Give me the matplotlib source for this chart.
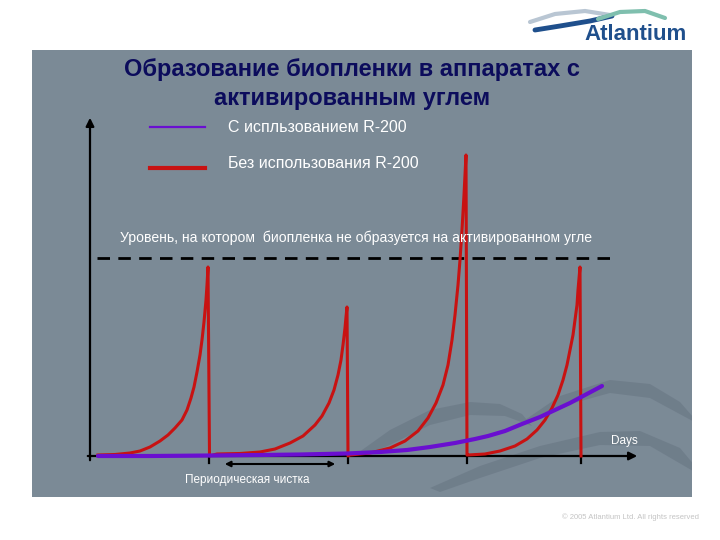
import matplotlib
matplotlib.use("Agg")
import matplotlib.pyplot as plt
from matplotlib.patches import Polygon
from matplotlib.transforms import Affine2D

plt.rcParams['font.family'] = ['Liberation Sans', 'DejaVu Sans']

TITLE = "Образование биопленки в аппаратах с\nактивированным углем"
LEGEND_WITH = "С испльзованием R-200"
LEGEND_WITHOUT = "Без использования R-200"
THRESHOLD_LABEL = "Уровень, на котором  биопленка не образуется на активированном угле"
CLEANING_LABEL = "Периодическая чистка"
X_LABEL = "Days"

# biofilm without R-200: four growth cycles, each ended by a cleaning
red_days = [0.8, 2.5, 4.0, 5.0, 6.0, 7.0, 7.8, 8.5, 9.2, 9.7, 10.1, 10.4, 10.7,
            11.0, 11.2, 11.4, 11.6, 11.7, 11.8, 11.95,
            12.7, 15.0, 17.0, 18.5, 20.0, 21.3, 22.5, 23.2, 23.9, 24.4, 24.8,
            25.1, 25.3, 25.5, 25.6, 25.7, 25.8,
            26.0, 28.0, 30.0, 31.5, 32.8, 33.8, 34.6, 35.3, 35.8, 36.2, 36.5,
            36.8, 37.0, 37.2, 37.4, 37.5, 37.6, 37.7,
            37.8, 39.5, 41.0, 42.5, 43.7, 44.7, 45.5, 46.2, 46.8, 47.3, 47.7,
            48.0, 48.3, 48.5, 48.7, 48.8, 49.0, 49.1]
red_vals = [0.1, 0.15, 0.3, 0.5, 0.9, 1.5, 2.1, 2.8, 3.6, 4.6, 5.8, 6.9, 8.4,
            10.1, 11.6, 13.4, 15.6, 17.1, 18.9, 0.0,
            0.2, 0.25, 0.4, 0.7, 1.3, 2.0, 3.1, 4.0, 5.3, 6.6, 8.1,
            9.6, 11.1, 12.8, 13.9, 14.9, 0.0,
            0.1, 0.3, 0.8, 1.5, 2.5, 3.8, 5.3, 7.1, 9.1, 11.6, 14.1,
            17.1, 19.6, 22.6, 26.1, 28.1, 30.1, 0.1,
            0.1, 0.2, 0.5, 1.0, 1.7, 2.6, 3.6, 4.8, 6.1, 7.6, 9.1,
            10.6, 12.1, 13.6, 15.1, 16.6, 18.9, 0.0]

# biofilm with R-200
purple_days = [0.8, 6.0, 12.0, 17.0, 21.0, 25.7, 29.0, 31.7, 34.0, 36.5, 38.5,
               39.8, 41.5, 43.2, 45.0, 46.5, 48.0, 49.5, 51.2]
purple_vals = [0.0, 0.0, 0.05, 0.1, 0.15, 0.25, 0.4, 0.6, 0.9, 1.3, 1.7,
               2.0, 2.5, 3.2, 3.9, 4.6, 5.3, 6.1, 7.0]

threshold = 19.8
cleaning_days = [11.9, 25.8, 37.7, 49.1]

PANEL = '#7b8a96'
RED = '#c81212'
PURPLE = '#6a0fd0'
NAVY = '#0c0c5c'

fig = plt.figure(figsize=(7.2, 5.4), dpi=100)
fig.patch.set_facecolor('white')

# pixel transform (top-left origin) for decoration
px = Affine2D().scale(1 / 720, -1 / 540).translate(0, 1) + fig.transFigure

ax = fig.add_axes([32 / 720, 43 / 540, 660 / 720, 447 / 540])
ax.set_facecolor(PANEL)
ax.set_xlim(-5.8, 60.2)
ax.set_ylim(-4.1, 40.6)
ax.set_xticks([])
ax.set_yticks([])
for s in ax.spines.values():
    s.set_visible(False)

# background waves
waves = [
    [(355, 455), (390, 430), (430, 410), (470, 402), (500, 404), (522, 414), (532, 426),
     (505, 416), (470, 415), (430, 425), (390, 445), (360, 457)],
    [(430, 488), (480, 466), (540, 446), (600, 432), (640, 431), (680, 448), (705, 478),
     (650, 446), (600, 445), (540, 458), (480, 478), (440, 492)],
    [(525, 420), (560, 396), (610, 380), (650, 384), (680, 402), (700, 425),
     (650, 398), (610, 393), (570, 404), (535, 420)],
]
for w in waves:
    ax.add_patch(Polygon(w, closed=True, transform=px, facecolor='#6c7a87',
                         edgecolor='none', alpha=0.75, zorder=0))

# axes arrows
ax.annotate('', xy=(55, 0), xytext=(-0.5, 0),
            arrowprops=dict(arrowstyle='-|>', color='black', lw=1.6, mutation_scale=12))
ax.annotate('', xy=(0, 34.1), xytext=(0, -0.7),
            arrowprops=dict(arrowstyle='-|>', color='black', lw=1.6, mutation_scale=12))
for d in cleaning_days:
    ax.plot([d, d], [0, -0.7], color='black', lw=1.6)

ax.plot([0.7, 52.2], [threshold, threshold], color='black', lw=2.0,
        linestyle=(0, (4.5, 3)))

ax.plot(red_days, red_vals, color=RED, lw=2.2, zorder=3)
ax.plot(purple_days, purple_vals, color=PURPLE, lw=3.0, solid_capstyle='round', zorder=4)

ax.annotate('', xy=(24.8, -0.8), xytext=(13.2, -0.8),
            arrowprops=dict(arrowstyle='<|-|>', color='black', lw=1.5, mutation_scale=8))
ax.text(15.7, -2.4, CLEANING_LABEL, color='white', fontsize=8.5, ha='center', va='center')
ax.text(53.4, 1.5, X_LABEL, color='white', fontsize=8.5, ha='center', va='center')
ax.text(3.0, 21.8, THRESHOLD_LABEL, color='white', fontsize=10.1, ha='left', va='center')

# legend
ax.plot([6, 11.5], [32.9, 32.9], color=PURPLE, lw=1.6)
ax.plot([6, 11.5], [28.8, 28.8], color=RED, lw=3.0)
ax.text(13.8, 32.9, LEGEND_WITH, color='white', fontsize=11.5, ha='left', va='center')
ax.text(13.8, 29.3, LEGEND_WITHOUT, color='white', fontsize=11.5, ha='left', va='center')

fig.text(352 / 720, 1 - 84 / 540, TITLE, color=NAVY, fontsize=17, fontweight='bold',
         ha='center', va='center', linespacing=1.3)

# logo
fig.add_artist(plt.Line2D([530, 555, 585, 610], [22, 14, 11, 15], transform=px,
                          color='#b9c6d3', lw=3, solid_capstyle='round'))
fig.add_artist(plt.Line2D([535, 560, 590, 612], [30, 26, 21, 16], transform=px,
                          color='#1f4f8c', lw=3.5, solid_capstyle='round'))
fig.add_artist(plt.Line2D([598, 620, 645, 665], [19, 12, 11, 18], transform=px,
                          color='#7fbfae', lw=3, solid_capstyle='round'))
fig.text(636 / 720, 1 - 35 / 540, "Atlantium", color='#1f4f8c', fontsize=16,
         fontweight='bold', ha='center', va='center')

fig.text(630 / 720, 1 - 517 / 540, "© 2005 Atlantium Ltd. All rights reserved",
         color='#c4c4c4', fontsize=5.5, ha='center', va='center')

fig.savefig('out.png', dpi=100, facecolor='white')
